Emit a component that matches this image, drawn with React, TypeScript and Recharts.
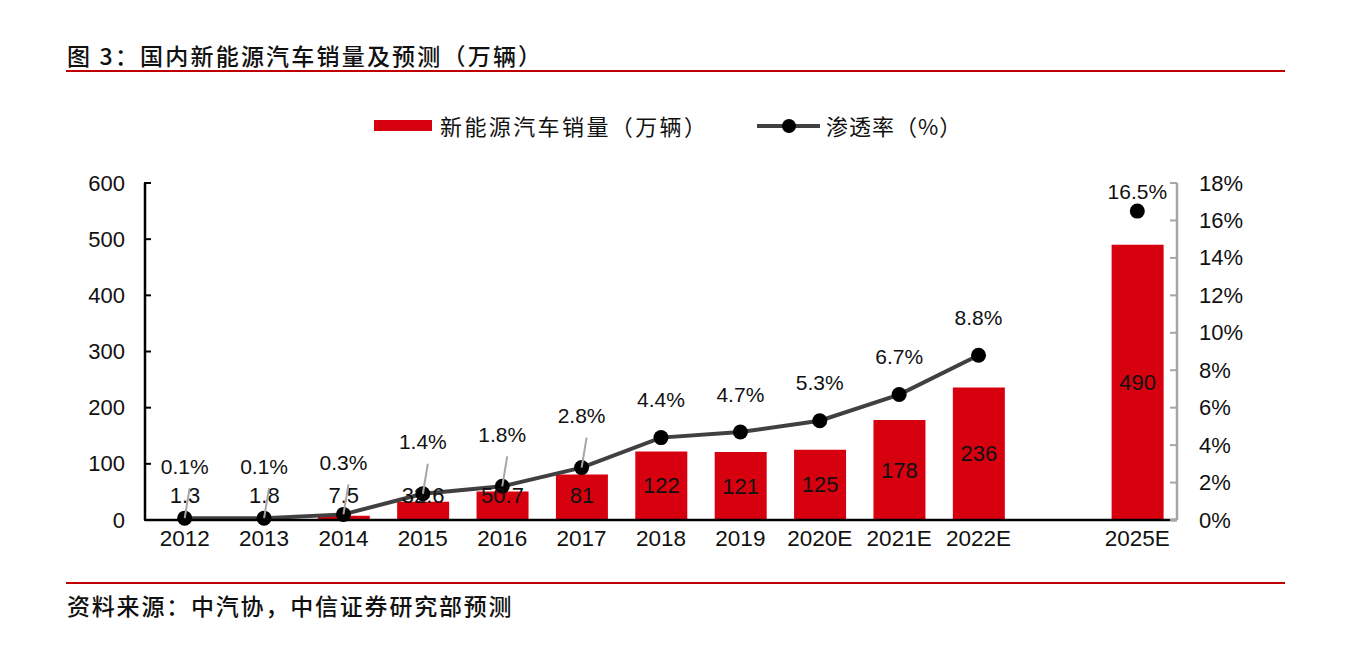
import React from 'react';
import { ComposedChart, Bar, Line, XAxis, YAxis, LabelList } from 'recharts';

const categories = ['2012', '2013', '2014', '2015', '2016', '2017', '2018', '2019', '2020E', '2021E', '2022E', '', '2025E'];
const salesValues = [1.3, 1.8, 7.5, 32.6, 50.7, 81, 122, 121, 125, 178, 236, null, 490];
const penetrationValues = [0.1, 0.1, 0.3, 1.4, 1.8, 2.8, 4.4, 4.7, 5.3, 6.7, 8.8, null, 16.5];
const leftTicks = [0, 100, 200, 300, 400, 500, 600];
const rightTicks = [0, 2, 4, 6, 8, 10, 12, 14, 16, 18];

const chartData = categories.map((name, i) => ({
  name,
  sales: salesValues[i],
  rate: penetrationValues[i],
}));

const NUM_FONT = "'Liberation Sans', 'Noto Sans CJK SC', sans-serif";
const CJK_FONT = "'Noto Sans CJK SC', sans-serif";
const RED = '#d7000f';
const TICK_GAP = 20;

const LeftTick = (props: any) => {
  const { x, y, payload } = props;
  const axisX = x + TICK_GAP;
  return (
    <g>
      <line x1={axisX - 1} x2={axisX + 6} y1={y} y2={y} stroke="#000" strokeWidth={2} />
      <text x={x} y={y} textAnchor="end" dominantBaseline="central" fontSize={22} fill="#111" fontFamily={NUM_FONT}>
        {payload.value}
      </text>
    </g>
  );
};

const RightTick = (props: any) => {
  const { x, y, payload } = props;
  const axisX = x - TICK_GAP;
  return (
    <g>
      <line x1={axisX} x2={axisX - 7} y1={y} y2={y} stroke="#a6a6a6" strokeWidth={2} />
      <text x={x + 2} y={y} textAnchor="start" dominantBaseline="central" fontSize={22} fill="#111" fontFamily={NUM_FONT}>
        {payload.value + '%'}
      </text>
    </g>
  );
};

const BarValueLabel = (props: any) => {
  const { x, y, width, height, value } = props;
  if (value == null) return null;
  const cy = Math.min(y + height / 2, y + height - 25);
  return (
    <text x={x + width / 2} y={cy} textAnchor="middle" dominantBaseline="central" fontSize={22} fill="#111" fontFamily={NUM_FONT}>
      {value}
    </text>
  );
};

const RateLabel = (props: any) => {
  const { x, y, value, index } = props;
  if (value == null) return null;
  const withLeader = index <= 5;
  const lift = withLeader ? 52 : index === categories.length - 1 ? 20 : 38;
  return (
    <g>
      {withLeader && (
        <line x1={x} y1={y} x2={x + 5} y2={y - lift + 22} stroke="#a6a6a6" strokeWidth={2} />
      )}
      <text x={x} y={y - lift} textAnchor="middle" dominantBaseline="central" fontSize={21} fill="#111" fontFamily={NUM_FONT}>
        {value.toFixed(1) + '%'}
      </text>
    </g>
  );
};

export default function App() {
  return (
    <div style={{ position: 'relative', width: 1349, height: 637, background: '#fff' }}>
      <div style={{ position: 'absolute', left: 59, top: 31, fontSize: 23, lineHeight: '32px', letterSpacing: 2.2, fontWeight: 500, color: '#111', fontFamily: CJK_FONT, whiteSpace: 'nowrap' }}>
        图 3：国内新能源汽车销量及预测（万辆）
      </div>
      <div style={{ position: 'absolute', left: 58, top: 62, width: 1219, height: 2, background: '#c00000' }} />

      <div style={{ position: 'absolute', left: 366, top: 112, width: 58, height: 11, background: RED }} />
      <div style={{ position: 'absolute', left: 432, top: 102, fontSize: 22, lineHeight: '30px', letterSpacing: 2.4, color: '#111', fontFamily: CJK_FONT, whiteSpace: 'nowrap' }}>
        新能源汽车销量（万辆）
      </div>
      <div style={{ position: 'absolute', left: 749, top: 116, width: 63, height: 4, background: '#404040' }} />
      <div style={{ position: 'absolute', left: 774, top: 111, width: 14, height: 14, borderRadius: 7, background: '#000' }} />
      <div style={{ position: 'absolute', left: 818, top: 102, fontSize: 22, lineHeight: '30px', letterSpacing: 1, color: '#111', fontFamily: CJK_FONT, whiteSpace: 'nowrap' }}>
        渗透率（%）
      </div>

      <div style={{ position: 'absolute', left: 0, top: 0 }}>
        <ComposedChart
          width={1349}
          height={562}
          data={chartData}
          margin={{ top: 175, right: 90, bottom: 10, left: 0 }}
          barCategoryGap={0}
        >
          <XAxis
            dataKey="name"
            xAxisId="x"
            axisLine={{ stroke: '#000', strokeWidth: 2.5 }}
            tickLine={false}
            tickSize={0}
            tickMargin={10}
            height={40}
            interval={0}
            tick={{ fontSize: 22.5, fill: '#111', fontFamily: NUM_FONT }}
          />
          <YAxis
            yAxisId="left"
            orientation="left"
            width={137}
            domain={[0, 600]}
            ticks={leftTicks}
            axisLine={{ stroke: '#000', strokeWidth: 2.5 }}
            tickLine={false}
            tickSize={0}
            tickMargin={TICK_GAP}
            tick={<LeftTick />}
          />
          <YAxis
            yAxisId="right"
            orientation="right"
            width={90}
            domain={[0, 18]}
            ticks={rightTicks}
            axisLine={{ stroke: '#a6a6a6', strokeWidth: 2.5 }}
            tickLine={false}
            tickSize={0}
            tickMargin={TICK_GAP}
            tick={<RightTick />}
          />
          <Bar xAxisId="x" yAxisId="left" dataKey="sales" fill={RED} barSize={52} isAnimationActive={false}>
            <LabelList dataKey="sales" content={<BarValueLabel />} />
          </Bar>
          <Line
            xAxisId="x"
            yAxisId="right"
            dataKey="rate"
            stroke="#404040"
            strokeWidth={4}
            type="linear"
            dot={{ r: 7.5, fill: '#000', stroke: '#000', strokeWidth: 0 }}
            activeDot={false}
            connectNulls={false}
            isAnimationActive={false}
          >
            <LabelList dataKey="rate" content={<RateLabel />} />
          </Line>
        </ComposedChart>
      </div>

      <div style={{ position: 'absolute', left: 58, top: 574, width: 1219, height: 2, background: '#c00000' }} />
      <div style={{ position: 'absolute', left: 59, top: 581, fontSize: 23, lineHeight: '32px', letterSpacing: 1.8, fontWeight: 500, color: '#111', fontFamily: CJK_FONT, whiteSpace: 'nowrap' }}>
        资料来源：中汽协，中信证券研究部预测
      </div>
    </div>
  );
}
